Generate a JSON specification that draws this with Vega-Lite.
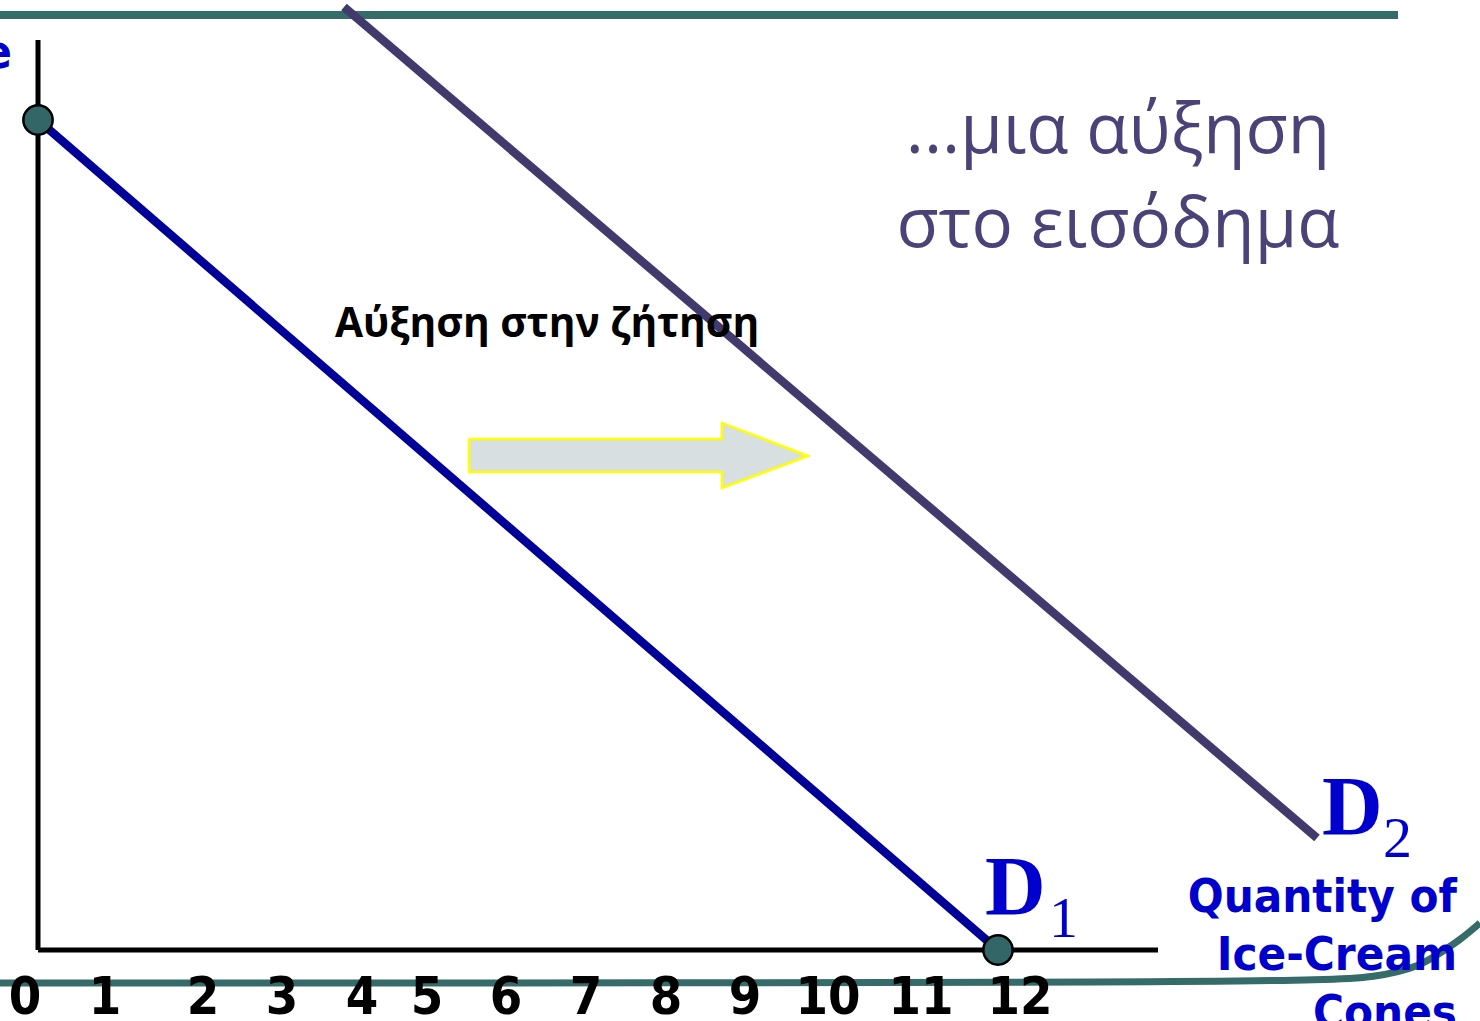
{
  "$schema": "https://vega.github.io/schema/vega-lite/v6.json",
  "width": 1480,
  "height": 1021,
  "autosize": {"type": "none"},
  "padding": 0,
  "background": "white",
  "config": {"view": {"stroke": null}},
  "datasets": {
    "topline": [{"q": -0.475, "p": 6.759, "i": 0}, {"q": 17.0, "p": 6.759, "i": 1}],
    "bottomline": [
      {"q": -0.475, "p": -0.2386, "i": 0},
      {"q": 15.775, "p": -0.2386, "i": 1},
      {"q": 16.775, "p": -0.1952, "i": 2},
      {"q": 17.275, "p": -0.1157, "i": 3},
      {"q": 17.525, "p": -0.0217, "i": 4},
      {"q": 17.775, "p": 0.0723, "i": 5},
      {"q": 18.025, "p": 0.1952, "i": 6}
    ],
    "axes": [
      {"q": 0, "p": 0, "q2": 0, "p2": 6.578},
      {"q": 0, "p": 0, "q2": 14.0, "p2": 0}
    ],
    "d1": [{"q": 0, "p": 6.0, "i": 0}, {"q": 12, "p": 0, "i": 1}],
    "d2": [{"q": 3.825, "p": 6.817, "i": 0}, {"q": 15.9875, "p": 0.8096, "i": 1}],
    "dots": [{"q": 0, "p": 6.0}, {"q": 12, "p": 0}],
    "arrow": [
      {"q": 5.3875, "p": 3.694, "i": 0},
      {"q": 8.55, "p": 3.694, "i": 1},
      {"q": 8.55, "p": 3.81, "i": 2},
      {"q": 9.625, "p": 3.571, "i": 3},
      {"q": 8.55, "p": 3.34, "i": 4},
      {"q": 8.55, "p": 3.455, "i": 5},
      {"q": 5.3875, "p": 3.455, "i": 6},
      {"q": 5.3875, "p": 3.694, "i": 7}
    ],
    "ticks": [
      {"q": -0.1625, "p": -0.4627, "t": "0"},
      {"q": 0.8375, "p": -0.4627, "t": "1"},
      {"q": 2.0625, "p": -0.4627, "t": "2"},
      {"q": 3.05, "p": -0.4627, "t": "3"},
      {"q": 4.05, "p": -0.4627, "t": "4"},
      {"q": 4.8625, "p": -0.4627, "t": "5"},
      {"q": 5.85, "p": -0.4627, "t": "6"},
      {"q": 6.85, "p": -0.4627, "t": "7"},
      {"q": 7.85, "p": -0.4627, "t": "8"},
      {"q": 8.8375, "p": -0.4627, "t": "9"},
      {"q": 9.875, "p": -0.4627, "t": "10"},
      {"q": 11.0375, "p": -0.4627, "t": "11"},
      {"q": 12.275, "p": -0.4627, "t": "12"}
    ],
    "xtitle": [
      {"q": 17.7375, "p": 0.2747, "t": "Quantity of"},
      {"q": 17.7375, "p": -0.1446, "t": "Ice-Cream"},
      {"q": 17.7375, "p": -0.5639, "t": "Cones"}
    ],
    "ytitle": [{"q": -0.325, "p": 6.376, "t": "Price"}],
    "greek": [
      {"q": 13.5, "p": 5.761, "t": "...μια αύξηση"},
      {"q": 13.5, "p": 5.082, "t": "στο εισόδημα"}
    ],
    "shift": [{"q": 3.7125, "p": 4.431, "t": "Αύξηση στην ζήτηση"}],
    "dbig": [
      {"q": 11.8375, "p": 0.253, "t": "D"},
      {"q": 16.05, "p": 0.831, "t": "D"}
    ],
    "dsub": [
      {"q": 12.6375, "p": 0.094, "t": "1"},
      {"q": 16.8125, "p": 0.672, "t": "2"}
    ]
  },
  "encoding": {
    "x": {"field": "q", "type": "quantitative", "scale": {"domain": [-0.475, 18.025], "nice": false, "zero": false}, "axis": null},
    "y": {"field": "p", "type": "quantitative", "scale": {"domain": [-0.5133, 6.8675], "nice": false, "zero": false}, "axis": null}
  },
  "layer": [
    {
      "data": {"name": "topline"},
      "mark": {"type": "line", "color": "#356b68", "strokeWidth": 8, "clip": false},
      "encoding": {"order": {"field": "i"}}
    },
    {
      "data": {"name": "bottomline"},
      "mark": {"type": "line", "color": "#356b68", "strokeWidth": 7, "interpolate": "basis", "clip": false},
      "encoding": {"order": {"field": "i"}}
    },
    {
      "data": {"name": "axes"},
      "mark": {"type": "rule", "color": "black", "strokeWidth": 5},
      "encoding": {"x2": {"field": "q2"}, "y2": {"field": "p2"}}
    },
    {
      "data": {"name": "arrow"},
      "mark": {"type": "line", "fill": "#d7dfe1", "stroke": "#ffff00", "strokeWidth": 2.5, "strokeJoin": "miter"},
      "encoding": {"order": {"field": "i"}}
    },
    {
      "data": {"name": "d2"},
      "mark": {"type": "line", "color": "#423a6c", "strokeWidth": 8.5, "strokeCap": "butt"},
      "encoding": {"order": {"field": "i"}}
    },
    {
      "data": {"name": "d1"},
      "mark": {"type": "line", "color": "#000099", "strokeWidth": 8.5, "strokeCap": "butt"},
      "encoding": {"order": {"field": "i"}}
    },
    {
      "data": {"name": "dots"},
      "mark": {"type": "point", "shape": "circle", "filled": true, "fill": "#336666", "stroke": "black", "strokeWidth": 2.5, "size": 860, "opacity": 1}
    },
    {
      "data": {"name": "ticks"},
      "mark": {"type": "text", "font": "DejaVu Sans Condensed", "fontWeight": "bold", "fontSize": 52, "align": "center", "baseline": "alphabetic", "color": "black"},
      "encoding": {"text": {"field": "t"}}
    },
    {
      "data": {"name": "xtitle"},
      "mark": {"type": "text", "font": "DejaVu Sans Condensed", "fontWeight": "bold", "fontSize": 47, "align": "right", "baseline": "alphabetic", "color": "#0000cc"},
      "encoding": {"text": {"field": "t"}}
    },
    {
      "data": {"name": "ytitle"},
      "mark": {"type": "text", "font": "DejaVu Sans Condensed", "fontWeight": "bold", "fontSize": 47, "align": "right", "baseline": "alphabetic", "color": "#0000cc"},
      "encoding": {"text": {"field": "t"}}
    },
    {
      "data": {"name": "greek"},
      "mark": {"type": "text", "font": "Open Sans", "fontSize": 69, "align": "center", "baseline": "alphabetic", "color": "#4b4277"},
      "encoding": {"text": {"field": "t"}}
    },
    {
      "data": {"name": "shift"},
      "mark": {"type": "text", "font": "Open Sans", "fontWeight": "bold", "fontSize": 40.7, "align": "left", "baseline": "alphabetic", "color": "black"},
      "encoding": {"text": {"field": "t"}}
    },
    {
      "data": {"name": "dbig"},
      "mark": {"type": "text", "font": "Liberation Serif", "fontWeight": "bold", "fontSize": 84, "align": "left", "baseline": "alphabetic", "color": "#0000cc"},
      "encoding": {"text": {"field": "t"}}
    },
    {
      "data": {"name": "dsub"},
      "mark": {"type": "text", "font": "Liberation Serif", "fontSize": 58, "align": "left", "baseline": "alphabetic", "color": "#0000cc"},
      "encoding": {"text": {"field": "t"}}
    }
  ]
}
